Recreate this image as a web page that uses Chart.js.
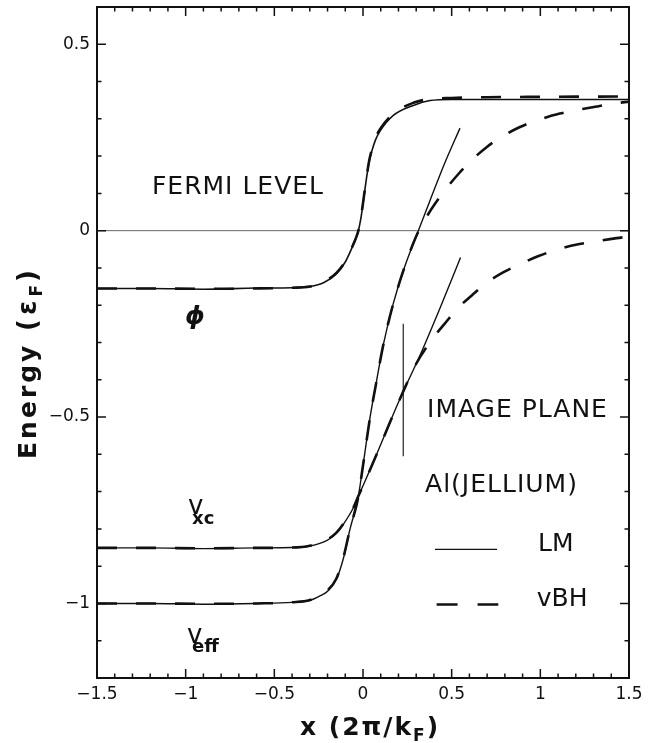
<!DOCTYPE html>
<html><head><meta charset="utf-8">
<script src="https://cdn.jsdelivr.net/npm/chart.js@4"></script>
<style>html,body{margin:0;padding:0;background:#fff}#c{display:block}</style>
</head><body>
<canvas id="c" width="656" height="743" style="width:656px;height:743px"></canvas>
<script>
// ---- data ----
const phiX_LM  = [-1.5, -1.2, -0.9, -0.6, -0.4, -0.3, -0.22, -0.15, -0.1, -0.055, -0.04, -0.026, -0.013, 0.0, 0.021, 0.035, 0.049, 0.07, 0.096, 0.171, 0.284, 0.378, 0.5, 0.7, 1.0, 1.5];
const phiY_LM  = [-0.155, -0.155, -0.157, -0.154, -0.153, -0.150, -0.139, -0.116, -0.084, -0.038, -0.02, 0.0, 0.03, 0.072, 0.145, 0.185, 0.212, 0.243, 0.267, 0.309, 0.336, 0.349, 0.352, 0.352, 0.352, 0.352];
const phiX_vBH = [-1.5, -1.2, -0.9, -0.6, -0.4, -0.3, -0.22, -0.15, -0.1, -0.055, -0.04, -0.026, -0.013, 0.0, 0.021, 0.035, 0.049, 0.07, 0.096, 0.171, 0.284, 0.378, 0.5, 0.7, 1.0, 1.5];
const phiY_vBH = [-0.155, -0.155, -0.156, -0.155, -0.153, -0.150, -0.137, -0.113, -0.082, -0.037, -0.02, 0.0, 0.031, 0.074, 0.147, 0.188, 0.216, 0.248, 0.272, 0.314, 0.343, 0.353, 0.356, 0.358, 0.359, 0.36];

const vxcX_LM  = [-1.5, -1.2, -0.9, -0.6, -0.4, -0.3, -0.2, -0.15, -0.11, -0.055, -0.026, 0.02, 0.077, 0.152, 0.218, 0.321, 0.434, 0.55];
const vxcY_LM  = [-0.851, -0.851, -0.853, -0.851, -0.850, -0.846, -0.830, -0.812, -0.787, -0.744, -0.712, -0.663, -0.600, -0.514, -0.441, -0.335, -0.208, -0.072];
const vxcX_vBH = [-1.5, -1.2, -0.9, -0.6, -0.4, -0.3, -0.2, -0.15, -0.11, -0.055, -0.026, 0.02, 0.077, 0.152, 0.218, 0.3, 0.4, 0.46, 0.53, 0.61, 0.7, 0.79, 0.885, 0.99, 1.1, 1.2, 1.32, 1.43, 1.5];
const vxcY_vBH = [-0.851, -0.851, -0.852, -0.851, -0.850, -0.845, -0.828, -0.810, -0.786, -0.744, -0.712, -0.663, -0.600, -0.514, -0.441, -0.357, -0.285, -0.25, -0.21, -0.175, -0.139, -0.112, -0.09, -0.068, -0.05, -0.038, -0.028, -0.02, -0.016];

const veffX_LM  = [-1.5, -1.2, -0.9, -0.6, -0.4, -0.3, -0.24, -0.2, -0.15, -0.11, -0.073, -0.036, -0.026, 0.0, 0.04, 0.07, 0.115, 0.171, 0.227, 0.312, 0.378, 0.46, 0.547];
const veffY_LM  = [-1.0, -1.0, -1.002, -1.0, -0.997, -0.992, -0.979, -0.967, -0.935, -0.878, -0.80, -0.735, -0.712, -0.63, -0.50, -0.42, -0.305, -0.195, -0.108, 0.0, 0.081, 0.18, 0.275];
const veffX_vBH = [-1.5, -1.2, -0.9, -0.6, -0.4, -0.3, -0.24, -0.2, -0.15, -0.11, -0.073, -0.036, -0.026, 0.0, 0.04, 0.07, 0.115, 0.171, 0.227, 0.3, 0.35, 0.406, 0.538, 0.697, 0.885, 1.11, 1.318, 1.43, 1.5];
const veffY_vBH = [-1.0, -1.0, -1.001, -1.0, -0.997, -0.991, -0.977, -0.965, -0.933, -0.876, -0.80, -0.735, -0.712, -0.63, -0.50, -0.42, -0.305, -0.195, -0.108, -0.015, 0.03, 0.072, 0.152, 0.224, 0.278, 0.314, 0.333, 0.342, 0.346];

const fermiX = [-1.5, 1.5];
const fermiY = [0, 0];
const imagePlaneX = [0.227, 0.227];
const imagePlaneY = [-0.25, -0.605];

const xTickValues = [-1.5, -1, -0.5, 0, 0.5, 1, 1.5];
const yTickValues = [-1, -0.5, 0, 0.5];

// ---- helpers ----
const pts = (xs, ys) => xs.map((x, i) => ({x, y: ys[i]}));
const FONT = '"DejaVu Sans", "Liberation Sans", sans-serif';
const fmt = v => { const s = String(Math.round(v * 10) / 10); return s.replace('-', '\u2212'); };

const solid = (label, data, w) => ({label, data, borderColor: '#111', borderWidth: w || 1.5, pointRadius: 0, fill: false, cubicInterpolationMode: 'monotone'});
const dashed = (label, data) => ({label, data, borderColor: '#111', borderWidth: 2.6, borderDash: [20, 19], pointRadius: 0, fill: false, cubicInterpolationMode: 'monotone'});

const notes = [
  {text: 'FERMI LEVEL', x: -1.19, y: 0.099, spacing: 1},
  {text: 'IMAGE PLANE', x: 0.361, y: -0.501, spacing: 1},
  {text: 'Al(JELLIUM)', x: 0.35, y: -0.70, spacing: 1},
  {text: 'LM', x: 0.987, y: -0.86, spacing: 0},
  {text: 'vBH', x: 0.98, y: -1.008, spacing: 0}
];
const subLabels = [
  {main: 'v', sub: 'xc', x: -0.987, y: -0.759, sx: -0.964, sy: -0.788},
  {main: 'v', sub: 'eff', x: -0.993, y: -1.107, sx: -0.964, sy: -1.131}
];
const legendKeys = [
  {x1: 0.406, x2: 0.756, y: -0.855, dash: []},
  {x1: 0.415, x2: 0.763, y: -1.003, dash: [21, 20]}
];

const decor = {
  id: 'decor',
  afterDraw(chart) {
    const ctx = chart.ctx, xs = chart.scales.x, ys = chart.scales.y, a = chart.chartArea;
    ctx.save();
    // inward tick marks on all four sides
    ctx.strokeStyle = '#111'; ctx.lineWidth = 1.5;
    for (let k = -15; k <= 15; k++) {
      const v = k / 10, major = (k % 5 === 0), len = major ? 9 : 4.5;
      const px = xs.getPixelForValue(v);
      ctx.beginPath();
      ctx.moveTo(px, a.bottom); ctx.lineTo(px, a.bottom - len);
      ctx.moveTo(px, a.top); ctx.lineTo(px, a.top + len);
      ctx.stroke();
    }
    for (let k = -12; k <= 6; k++) {
      const v = k / 10, major = (k % 5 === 0), len = major ? 9 : 4.5;
      const py = ys.getPixelForValue(v);
      ctx.beginPath();
      ctx.moveTo(a.left, py); ctx.lineTo(a.left + len, py);
      ctx.moveTo(a.right, py); ctx.lineTo(a.right - len, py);
      ctx.stroke();
    }
    // annotation texts
    ctx.fillStyle = '#111'; ctx.textBaseline = 'alphabetic'; ctx.textAlign = 'left';
    ctx.font = '25px ' + FONT;
    notes.forEach(n => {
      ctx.letterSpacing = n.spacing + 'px';
      ctx.fillText(n.text, xs.getPixelForValue(n.x), ys.getPixelForValue(n.y));
    });
    ctx.letterSpacing = '0px';
    subLabels.forEach(s => {
      ctx.font = '26px ' + FONT;
      ctx.fillText(s.main, xs.getPixelForValue(s.x), ys.getPixelForValue(s.y));
      ctx.font = 'bold 18px ' + FONT;
      ctx.fillText(s.sub, xs.getPixelForValue(s.sx), ys.getPixelForValue(s.sy));
    });
    // phi label
    ctx.font = 'bold italic 25px ' + FONT;
    ctx.textAlign = 'center'; ctx.textBaseline = 'middle';
    ctx.fillText('\u03D5', xs.getPixelForValue(-0.947), ys.getPixelForValue(-0.233));
    // legend keys
    legendKeys.forEach((k, i) => {
      ctx.beginPath();
      ctx.setLineDash(k.dash);
      ctx.lineWidth = i === 0 ? 1.4 : 2.6;
      ctx.moveTo(xs.getPixelForValue(k.x1), ys.getPixelForValue(k.y));
      ctx.lineTo(xs.getPixelForValue(k.x2), ys.getPixelForValue(k.y));
      ctx.stroke();
    });
    ctx.setLineDash([]);
    // axis titles with subscripts
    const rich = (parts) => {
      let w = 0;
      parts.forEach(p => { ctx.font = p.font; ctx.letterSpacing = p.ls + 'px'; p.w = ctx.measureText(p.t).width; w += p.w; });
      return w;
    };
    const drawRich = (parts, startX, baseY) => {
      let x = startX;
      parts.forEach(p => { ctx.font = p.font; ctx.letterSpacing = p.ls + 'px'; ctx.fillText(p.t, x, baseY + (p.dy || 0)); x += p.w; });
    };
    ctx.textAlign = 'left'; ctx.textBaseline = 'alphabetic';
    const xt = [
      {t: 'x (2\u03C0/k', font: 'bold 25px ' + FONT, ls: 2},
      {t: 'F', font: 'bold 17px ' + FONT, ls: 2, dy: 6},
      {t: ')', font: 'bold 25px ' + FONT, ls: 2}
    ];
    const wx = rich(xt);
    drawRich(xt, (a.left + a.right) / 2 + 7 - wx / 2, a.bottom + 57);
    const yt = [
      {t: 'Energy ', font: 'bold 25px ' + FONT, ls: 3},
      {t: '(\u03B5', font: 'bold 26px ' + FONT, ls: 4},
      {t: 'F', font: 'bold 17px ' + FONT, ls: 3, dy: 6},
      {t: ')', font: 'bold 26px ' + FONT, ls: 0}
    ];
    const wy = rich(yt);
    ctx.translate(36, (a.top + a.bottom) / 2 + 22);
    ctx.rotate(-Math.PI / 2);
    drawRich(yt, -wy / 2, 0);
    ctx.restore();
  }
};

new Chart(document.getElementById('c'), {
  type: 'line',
  data: {
    datasets: [
      solid('phi LM', pts(phiX_LM, phiY_LM), 1.6),
      dashed('phi vBH', pts(phiX_vBH, phiY_vBH)),
      solid('vxc LM', pts(vxcX_LM, vxcY_LM), 1.4),
      dashed('vxc vBH', pts(vxcX_vBH, vxcY_vBH)),
      solid('veff LM', pts(veffX_LM, veffY_LM), 1.4),
      dashed('veff vBH', pts(veffX_vBH, veffY_vBH)),
      {label: 'Fermi level', data: pts(fermiX, fermiY), borderColor: '#666', borderWidth: 1, pointRadius: 0},
      {label: 'image plane', data: pts(imagePlaneX, imagePlaneY), borderColor: '#222', borderWidth: 1.2, pointRadius: 0}
    ]
  },
  options: {
    responsive: false, animation: false,
    layout: {padding: {left: 0, right: 27, top: 7, bottom: 0}},
    plugins: {legend: {display: false}, tooltip: {enabled: false}},
    scales: {
      x: {
        type: 'linear', position: 'bottom', min: -1.5, max: 1.5,
        afterBuildTicks: s => { s.ticks = xTickValues.map(v => ({value: v})); },
        afterFit: s => { s.height = 65; },
        grid: {display: true, drawOnChartArea: false, drawTicks: false},
        border: {display: true, color: '#111', width: 2},
        ticks: {font: {family: FONT, size: 17}, color: '#111', padding: 6, maxRotation: 0, autoSkip: false, callback: v => fmt(v)}
      },
      x2: {
        type: 'linear', position: 'top', min: -1.5, max: 1.5, display: true,
        afterFit: s => { s.height = 0; },
        grid: {display: true, drawOnChartArea: false, drawTicks: false},
        border: {display: true, color: '#111', width: 2},
        ticks: {display: false}
      },
      y: {
        type: 'linear', position: 'left', min: -1.2, max: 0.6,
        afterBuildTicks: s => { s.ticks = yTickValues.map(v => ({value: v})); },
        afterFit: s => { s.width = 97; s.paddingTop = 0; s.paddingBottom = 0; },
        grid: {display: true, drawOnChartArea: false, drawTicks: false},
        border: {display: true, color: '#111', width: 2},
        ticks: {font: {family: FONT, size: 17}, color: '#111', padding: 7, autoSkip: false, callback: v => fmt(v)}
      },
      y2: {
        type: 'linear', position: 'right', min: -1.2, max: 0.6, display: true,
        afterFit: s => { s.width = 0; s.paddingTop = 0; s.paddingBottom = 0; },
        grid: {display: true, drawOnChartArea: false, drawTicks: false},
        border: {display: true, color: '#111', width: 2},
        ticks: {display: false}
      }
    }
  },
  plugins: [decor]
});
</script>
</body></html>
